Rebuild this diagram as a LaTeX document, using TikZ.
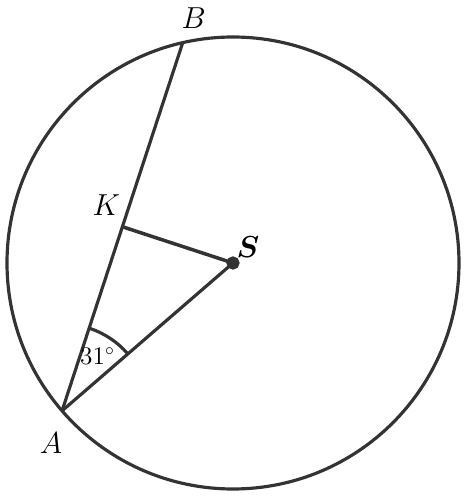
\documentclass[tikz,border=0pt]{standalone}
\usepackage{amsmath}
\usetikzlibrary{calc}
\begin{document}
\begin{tikzpicture}[line width=1.8pt,color=black!80]
	\useasboundingbox (-4.66,-4.72) rectangle (4.76,5.26);
	\coordinate (S) at (0,0);
	\coordinate (A) at (220.85:4.52);
	\coordinate (B) at (102.85:4.52);
	\coordinate (K) at ($(A)!0.5!(B)$);
	
	\draw (S) circle [radius=4.52];
	\draw (A)--(B);
	\draw (A)--(S);
	\draw[line width=2pt] (K)--(S);
	\draw[fill] (S) circle [radius=0.1];
	\draw ([shift={(40.85:1.74)}]A) arc (40.85:71.85:1.74);
	
	\node[black] (labA) at ([shift={(-0.22,-0.64)}]A) {\LARGE $A$};
	\node[black] (labB) at ([shift={(0.22,0.5)}]B) {\LARGE $B$};
	\node[black] (labK) at ([shift={(-0.32,0.44)}]K) {\LARGE $K$};
	\node[black] (labS) at ([shift={(0.3,0.32)}]S) {\LARGE $\boldsymbol{S}$};
	\node[black] (ang) at ([shift={(57:1.3)}]A) {\Large $31^\circ$};
	
\end{tikzpicture}
\end{document}
